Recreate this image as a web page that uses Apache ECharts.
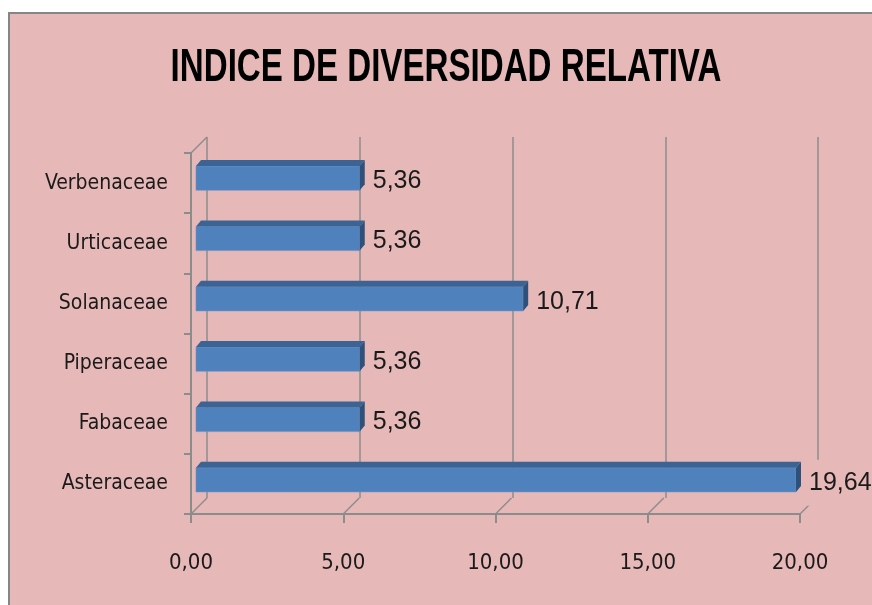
<!DOCTYPE html>
<html>
<head>
<meta charset="utf-8">
<script src="https://cdn.jsdelivr.net/npm/echarts@6/dist/echarts.min.js"></script>
<style>html,body{margin:0;padding:0;background:#fff;}#c{width:872px;height:605px;}</style>
</head>
<body>
<div id="c"></div>
<script>
const titleText = 'INDICE DE DIVERSIDAD RELATIVA';
const categories = ['Asteraceae', 'Fabaceae', 'Piperaceae', 'Solanaceae', 'Urticaceae', 'Verbenaceae'];
const values = [19.64, 5.36, 5.36, 10.71, 5.36, 5.36];
const xTicks = [0, 5, 10, 15, 20];

const PINK = '#E6B8B7';
const AXIS = '#8C8C8C';
const fmt = v => v.toFixed(2).replace('.', ',');

const chart = echarts.init(document.getElementById('c'), null, {renderer: 'canvas'});
const option = {
  backgroundColor: '#ffffff',
  animation: false,
  graphic: [
    {type: 'rect', z: -10, shape: {x: 9, y: 13, width: 900, height: 620},
     style: {fill: PINK, stroke: '#858585', lineWidth: 2}},
    {type: 'text', z: 10, x: 446, y: 68.5, scaleX: 0.72,
     style: {text: titleText, font: 'bold 46px "Liberation Sans", Arial, sans-serif',
             fill: '#000', align: 'center', verticalAlign: 'middle'}}
  ],
  grid: [
    {left: 207, right: 54, top: 137, bottom: 107},
    {left: 191, right: 72, top: 153, bottom: 91},
    {left: 196, right: 65, top: 148, bottom: 95}
  ],
  xAxis: [
    {gridIndex: 0, type: 'value', min: 0, max: 20, interval: 5,
     axisLine: {show: false}, axisTick: {show: false}, axisLabel: {show: false},
     splitLine: {show: true, lineStyle: {color: AXIS, width: 1.5}}},
    {gridIndex: 1, type: 'value', min: 0, max: 20, interval: 5,
     axisLine: {show: true, lineStyle: {color: AXIS, width: 2}},
     axisTick: {show: true, length: 9, lineStyle: {color: AXIS, width: 2}},
     splitLine: {show: false},
     axisLabel: {show: true, margin: 38, color: '#1a1a1a', fontSize: 22,
                 fontFamily: '"Liberation Sans Narrow", "DejaVu Sans Condensed", sans-serif',
                 formatter: v => fmt(v)}},
    {gridIndex: 2, type: 'value', min: 0, max: 20, show: false}
  ],
  yAxis: [
    {gridIndex: 0, type: 'category', data: categories, show: false},
    {gridIndex: 1, type: 'category', data: categories,
     axisLine: {show: true, lineStyle: {color: AXIS, width: 2}},
     axisTick: {show: true, length: 7, lineStyle: {color: AXIS, width: 2}},
     splitLine: {show: false},
     axisLabel: {show: true, margin: 23, color: '#1a1a1a', fontSize: 21,
                 fontFamily: '"Liberation Sans Narrow", "DejaVu Sans Condensed", sans-serif'}},
    {gridIndex: 2, type: 'category', data: categories, show: false}
  ],
  series: [
    {
      type: 'custom', xAxisIndex: 1, yAxisIndex: 1, z: 1, silent: true,
      data: xTicks.map(v => [v, 0]),
      encode: {x: 0, y: 1},
      renderItem: function (params, api) {
        const cs = params.coordSys;
        const p = api.coord([api.value(0), 0]);
        const bottom = cs.y + cs.height;
        const children = [{type: 'line', shape: {x1: p[0], y1: bottom, x2: p[0] + 16, y2: bottom - 16},
                           style: {stroke: AXIS, lineWidth: 1.5}}];
        if (params.dataIndex === 0) {
          children.push({type: 'line', shape: {x1: cs.x, y1: cs.y, x2: cs.x + 16, y2: cs.y - 16},
                         style: {stroke: AXIS, lineWidth: 1.5}});
        }
        return {type: 'group', children: children};
      }
    },
    {
      type: 'custom', xAxisIndex: 2, yAxisIndex: 2, z: 3,
      data: values.map((v, i) => [v, i]),
      encode: {x: 0, y: 1},
      renderItem: function (params, api) {
        const v = api.value(0), i = api.value(1);
        const s = api.coord([0, i]);
        const e = api.coord([v, i]);
        const h = api.size([0, 1])[1] * 0.4;
        const dx = 5, dy = 6;
        const x0 = s[0], x1 = e[0], cy = s[1];
        const yt = cy - h / 2, yb = cy + h / 2;
        return {
          type: 'group',
          children: [
            {type: 'rect', shape: {x: x0, y: yt, width: x1 - x0, height: h},
             style: {fill: '#4F81BD', stroke: '#6A94C8', lineWidth: 0.6}},
            {type: 'polygon', shape: {points: [[x0, yt], [x0 + dx, yt - dy], [x1 + dx, yt - dy], [x1, yt]]},
             style: {fill: '#3B6494'}},
            {type: 'polygon', shape: {points: [[x1, yt], [x1 + dx, yt - dy], [x1 + dx, yb - dy], [x1, yb]]},
             style: {fill: '#2E5079'}},
            {type: 'text', x: x1 + 9, y: cy + 3,
             style: {text: fmt(v), font: '25px "Liberation Sans", Arial, sans-serif', fill: '#1a1a1a',
                     align: 'left', verticalAlign: 'middle', backgroundColor: PINK,
                     padding: [12, 4, 9, 4]}}
          ]
        };
      }
    }
  ]
};
chart.setOption(option);
</script>
</body>
</html>
